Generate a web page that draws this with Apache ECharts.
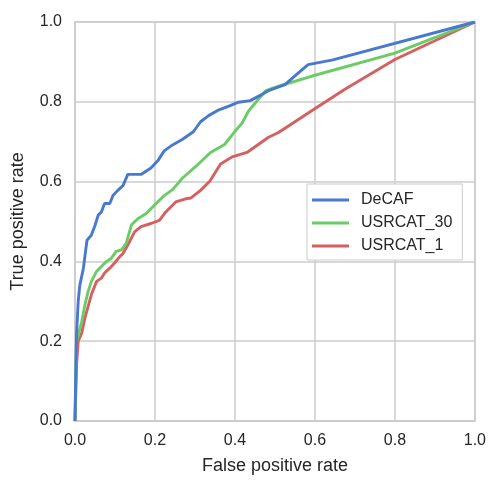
<!DOCTYPE html>
<html>
<head>
<meta charset="utf-8">
<script src="https://cdn.jsdelivr.net/npm/echarts@6/dist/echarts.min.js"></script>
<style>
  html, body { margin: 0; padding: 0; background: #fff; }
  #chart { width: 489px; height: 480px; }
</style>
</head>
<body>
<div id="chart"></div>
<script>
// ROC curves, [fpr, tpr]
const decaf = [
    [0, 0], [0.002, 0.12], [0.004, 0.22], [0.008, 0.3], [0.012, 0.34], [0.021, 0.383],
    [0.03, 0.453], [0.041, 0.466], [0.05, 0.49], [0.058, 0.516], [0.066, 0.524],
    [0.074, 0.545], [0.087, 0.545], [0.095, 0.565], [0.107, 0.578], [0.12, 0.59],
    [0.132, 0.618], [0.165, 0.618], [0.19, 0.634], [0.207, 0.652], [0.223, 0.677],
    [0.244, 0.692], [0.269, 0.706], [0.296, 0.725], [0.314, 0.75], [0.335, 0.766],
    [0.36, 0.78], [0.385, 0.789], [0.409, 0.799], [0.438, 0.803], [0.467, 0.818],
    [0.484, 0.828], [0.525, 0.843], [0.558, 0.872], [0.583, 0.893], [0.645, 0.905],
    [1, 1]
];
const usrcat30 = [
    [0, 0], [0.002, 0.12], [0.004, 0.2], [0.017, 0.25], [0.025, 0.292], [0.033, 0.325],
    [0.041, 0.35], [0.054, 0.375], [0.066, 0.387], [0.079, 0.4], [0.091, 0.408],
    [0.103, 0.425], [0.116, 0.429], [0.128, 0.445], [0.141, 0.491], [0.157, 0.507],
    [0.178, 0.52], [0.199, 0.541], [0.223, 0.565], [0.244, 0.58], [0.269, 0.609],
    [0.302, 0.638], [0.339, 0.673], [0.374, 0.693], [0.401, 0.727], [0.418, 0.747],
    [0.434, 0.777], [0.477, 0.828], [0.509, 0.839], [0.591, 0.864], [0.8, 0.922],
    [1, 1]
];
const usrcat1 = [
    [0, 0], [0.004, 0.143], [0.008, 0.2], [0.017, 0.221], [0.025, 0.259], [0.033, 0.288],
    [0.041, 0.317], [0.054, 0.35], [0.066, 0.358], [0.074, 0.371], [0.087, 0.383],
    [0.099, 0.396], [0.112, 0.412], [0.12, 0.42], [0.132, 0.441], [0.149, 0.474],
    [0.165, 0.487], [0.19, 0.495], [0.211, 0.503], [0.227, 0.524], [0.252, 0.549],
    [0.277, 0.557], [0.29, 0.559], [0.314, 0.578], [0.337, 0.601], [0.364, 0.644],
    [0.393, 0.662], [0.43, 0.673], [0.484, 0.711], [0.509, 0.723], [0.591, 0.777],
    [0.674, 0.831], [0.8, 0.906], [1, 1]
];
const seriesNames = ['DeCAF', 'USRCAT_30', 'USRCAT_1'];
const seriesColors = ['#4878cf', '#6acc65', '#d65f5f'];

const font = 'Liberation Sans, Arial, sans-serif';
const textColor = '#262626';

const axisCommon = {
    type: 'value',
    min: 0,
    max: 1,
    interval: 0.2,
    nameLocation: 'middle',
    nameTextStyle: { fontSize: 18, color: textColor, fontFamily: font },
    axisLine: { show: true, lineStyle: { color: '#cccccc', width: 1.5 } },
    axisTick: { show: false },
    splitLine: { show: true, lineStyle: { color: '#cccccc', width: 1.5 } },
    axisLabel: {
        fontSize: 16,
        color: textColor,
        fontFamily: font,
        formatter: v => v.toFixed(1)
    }
};

const option = {
    animation: false,
    backgroundColor: '#ffffff',
    grid: { left: 75, right: 11, top: 22, bottom: 56, show: true, borderColor: '#cccccc', borderWidth: 1.5 },
    xAxis: Object.assign({}, axisCommon, {
        name: 'False positive rate',
        nameGap: 36,
        axisLabel: Object.assign({}, axisCommon.axisLabel, { margin: 12 })
    }),
    yAxis: Object.assign({}, axisCommon, {
        name: 'True positive rate',
        nameGap: 48,
        axisLabel: Object.assign({}, axisCommon.axisLabel, { margin: 13 })
    }),
    legend: {
        orient: 'vertical',
        left: 307,
        top: 184,
        padding: [8, 10, 6, 5],
        itemGap: 7,
        itemWidth: 37,
        itemHeight: 3,
        icon: 'rect',
        backgroundColor: '#ffffff',
        borderColor: '#cccccc',
        borderWidth: 1,
        textStyle: { fontSize: 16, color: textColor, fontFamily: font, padding: [0, 0, 0, 7] },
        data: seriesNames
    },
    series: [decaf, usrcat30, usrcat1].map((d, i) => ({
        name: seriesNames[i],
        type: 'line',
        data: d,
        symbol: 'none',
        z: 3 - i,
        color: seriesColors[i],
        lineStyle: { width: 2.9, color: seriesColors[i] }
    }))
};

const myChart = echarts.init(document.getElementById('chart'));
myChart.setOption(option);
</script>
</body>
</html>
